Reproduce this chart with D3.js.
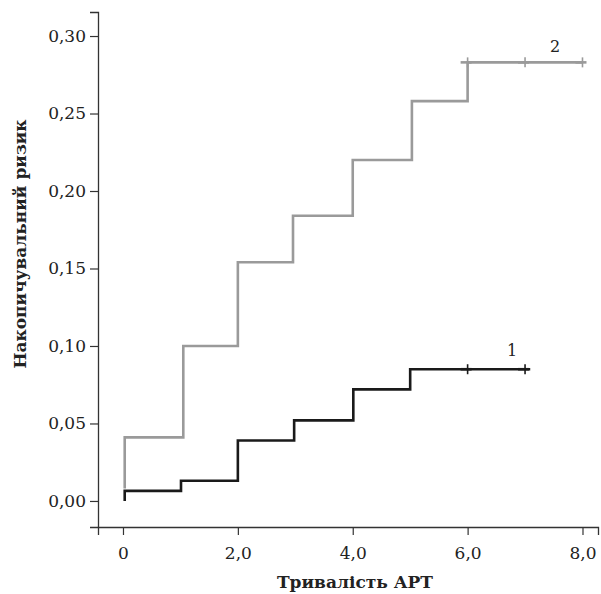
<!DOCTYPE html>
<html>
<head>
<meta charset="utf-8">
<script src="https://cdn.jsdelivr.net/npm/d3@7"></script>
<style>
  body { margin: 0; background: #fff; }
  svg text { font-family: "DejaVu Serif", "Liberation Serif", serif; }
</style>
</head>
<body>
<script>
// series 2 (grey) and series 1 (black): step points, time in years
var greyX = [0.03, 0.03, 1.05, 2.0, 2.96, 4.0, 5.03, 6.0, 8.0];
var greyY = [0.008, 0.041, 0.100, 0.154, 0.184, 0.220, 0.258, 0.283, 0.283];
var greyCensor = [6.0, 7.0, 8.0];

var blackX = [0.03, 0.03, 1.01, 2.0, 2.98, 4.01, 5.0, 7.09];
var blackY = [0.0, 0.0065, 0.013, 0.039, 0.052, 0.072, 0.085, 0.085];
var blackCensor = [6.0, 7.0];

var xTicks = [0, 2, 4, 6, 8];
var yTicks = [0, 0.05, 0.10, 0.15, 0.20, 0.25, 0.30];

var W = 601, H = 594;
var svg = d3.select('body').append('svg').attr('width', W).attr('height', H);

var x = d3.scaleLinear().domain([-0.435, 8.27]).range([98, 598]);
var y = d3.scaleLinear().domain([-0.0168, 0.3155]).range([527, 12]);

var comma = function(f) { return function(d) { return f(d).replace('.', ','); }; };

// axes
var yAxis = d3.axisLeft(y).tickValues(yTicks).tickSizeOuter(0).tickSize(8).tickPadding(4)
  .tickFormat(comma(d3.format('.2f')));
var xAxis = d3.axisBottom(x).tickValues(xTicks).tickSizeOuter(0).tickSize(8).tickPadding(12)
  .tickFormat(function(d) { return d === 0 ? '0' : d3.format('.1f')(d).replace('.', ','); });

var gy = svg.append('g').attr('transform', 'translate(98,0)').call(yAxis);
var gx = svg.append('g').attr('transform', 'translate(0,527)').call(xAxis);
[gx, gy].forEach(function(g) {
  g.select('.domain').attr('stroke', '#333').attr('stroke-width', 1.3);
  g.selectAll('.tick line').attr('stroke', '#333').attr('stroke-width', 1.2);
  g.selectAll('.tick text').attr('fill', '#222').style('font-size', '17px')
    .style('font-family', '"DejaVu Serif", "Liberation Serif", serif');
});

var line = d3.line().x(function(d) { return x(d[0]); }).y(function(d) { return y(d[1]); })
  .curve(d3.curveStepAfter);

function drawSeries(xs, ys, censor, colour) {
  var pts = xs.map(function(v, i) { return [v, ys[i]]; });
  svg.append('path').datum(pts).attr('d', line)
    .attr('fill', 'none').attr('stroke', colour).attr('stroke-width', 2.6);
  var last = ys[ys.length - 1];
  var marks = svg.append('g').selectAll('g').data(censor).enter().append('g');
  marks.append('line')
    .attr('x1', function(d) { return x(d) - 7; }).attr('x2', function(d) { return x(d) + 4; })
    .attr('y1', y(last)).attr('y2', y(last))
    .attr('stroke', colour).attr('stroke-width', 2.6);
  marks.append('line')
    .attr('x1', function(d) { return x(d); }).attr('x2', function(d) { return x(d); })
    .attr('y1', y(last) - 5).attr('y2', y(last) + 5)
    .attr('stroke', colour).attr('stroke-width', 1.6);
}

drawSeries(greyX, greyY, greyCensor, '#9a9a9a');
drawSeries(blackX, blackY, blackCensor, '#1a1a1a');

// series labels
svg.append('text').attr('x', 555).attr('y', 52).attr('text-anchor', 'middle')
  .style('font-size', '16px').attr('fill', '#222').text('2');
svg.append('text').attr('x', 512).attr('y', 356).attr('text-anchor', 'middle')
  .style('font-size', '16px').attr('fill', '#222').text('1');

// axis titles
svg.append('text').attr('x', 355).attr('y', 588).attr('text-anchor', 'middle')
  .style('font-size', '17px').style('font-weight', 'bold').attr('fill', '#222')
  .text('Тривалість АРТ');
svg.append('text').attr('transform', 'translate(26,244) rotate(-90)').attr('text-anchor', 'middle')
  .style('font-size', '17px').style('font-weight', 'bold').attr('fill', '#222')
  .text('Накопичувальний ризик');
</script>
</body>
</html>
